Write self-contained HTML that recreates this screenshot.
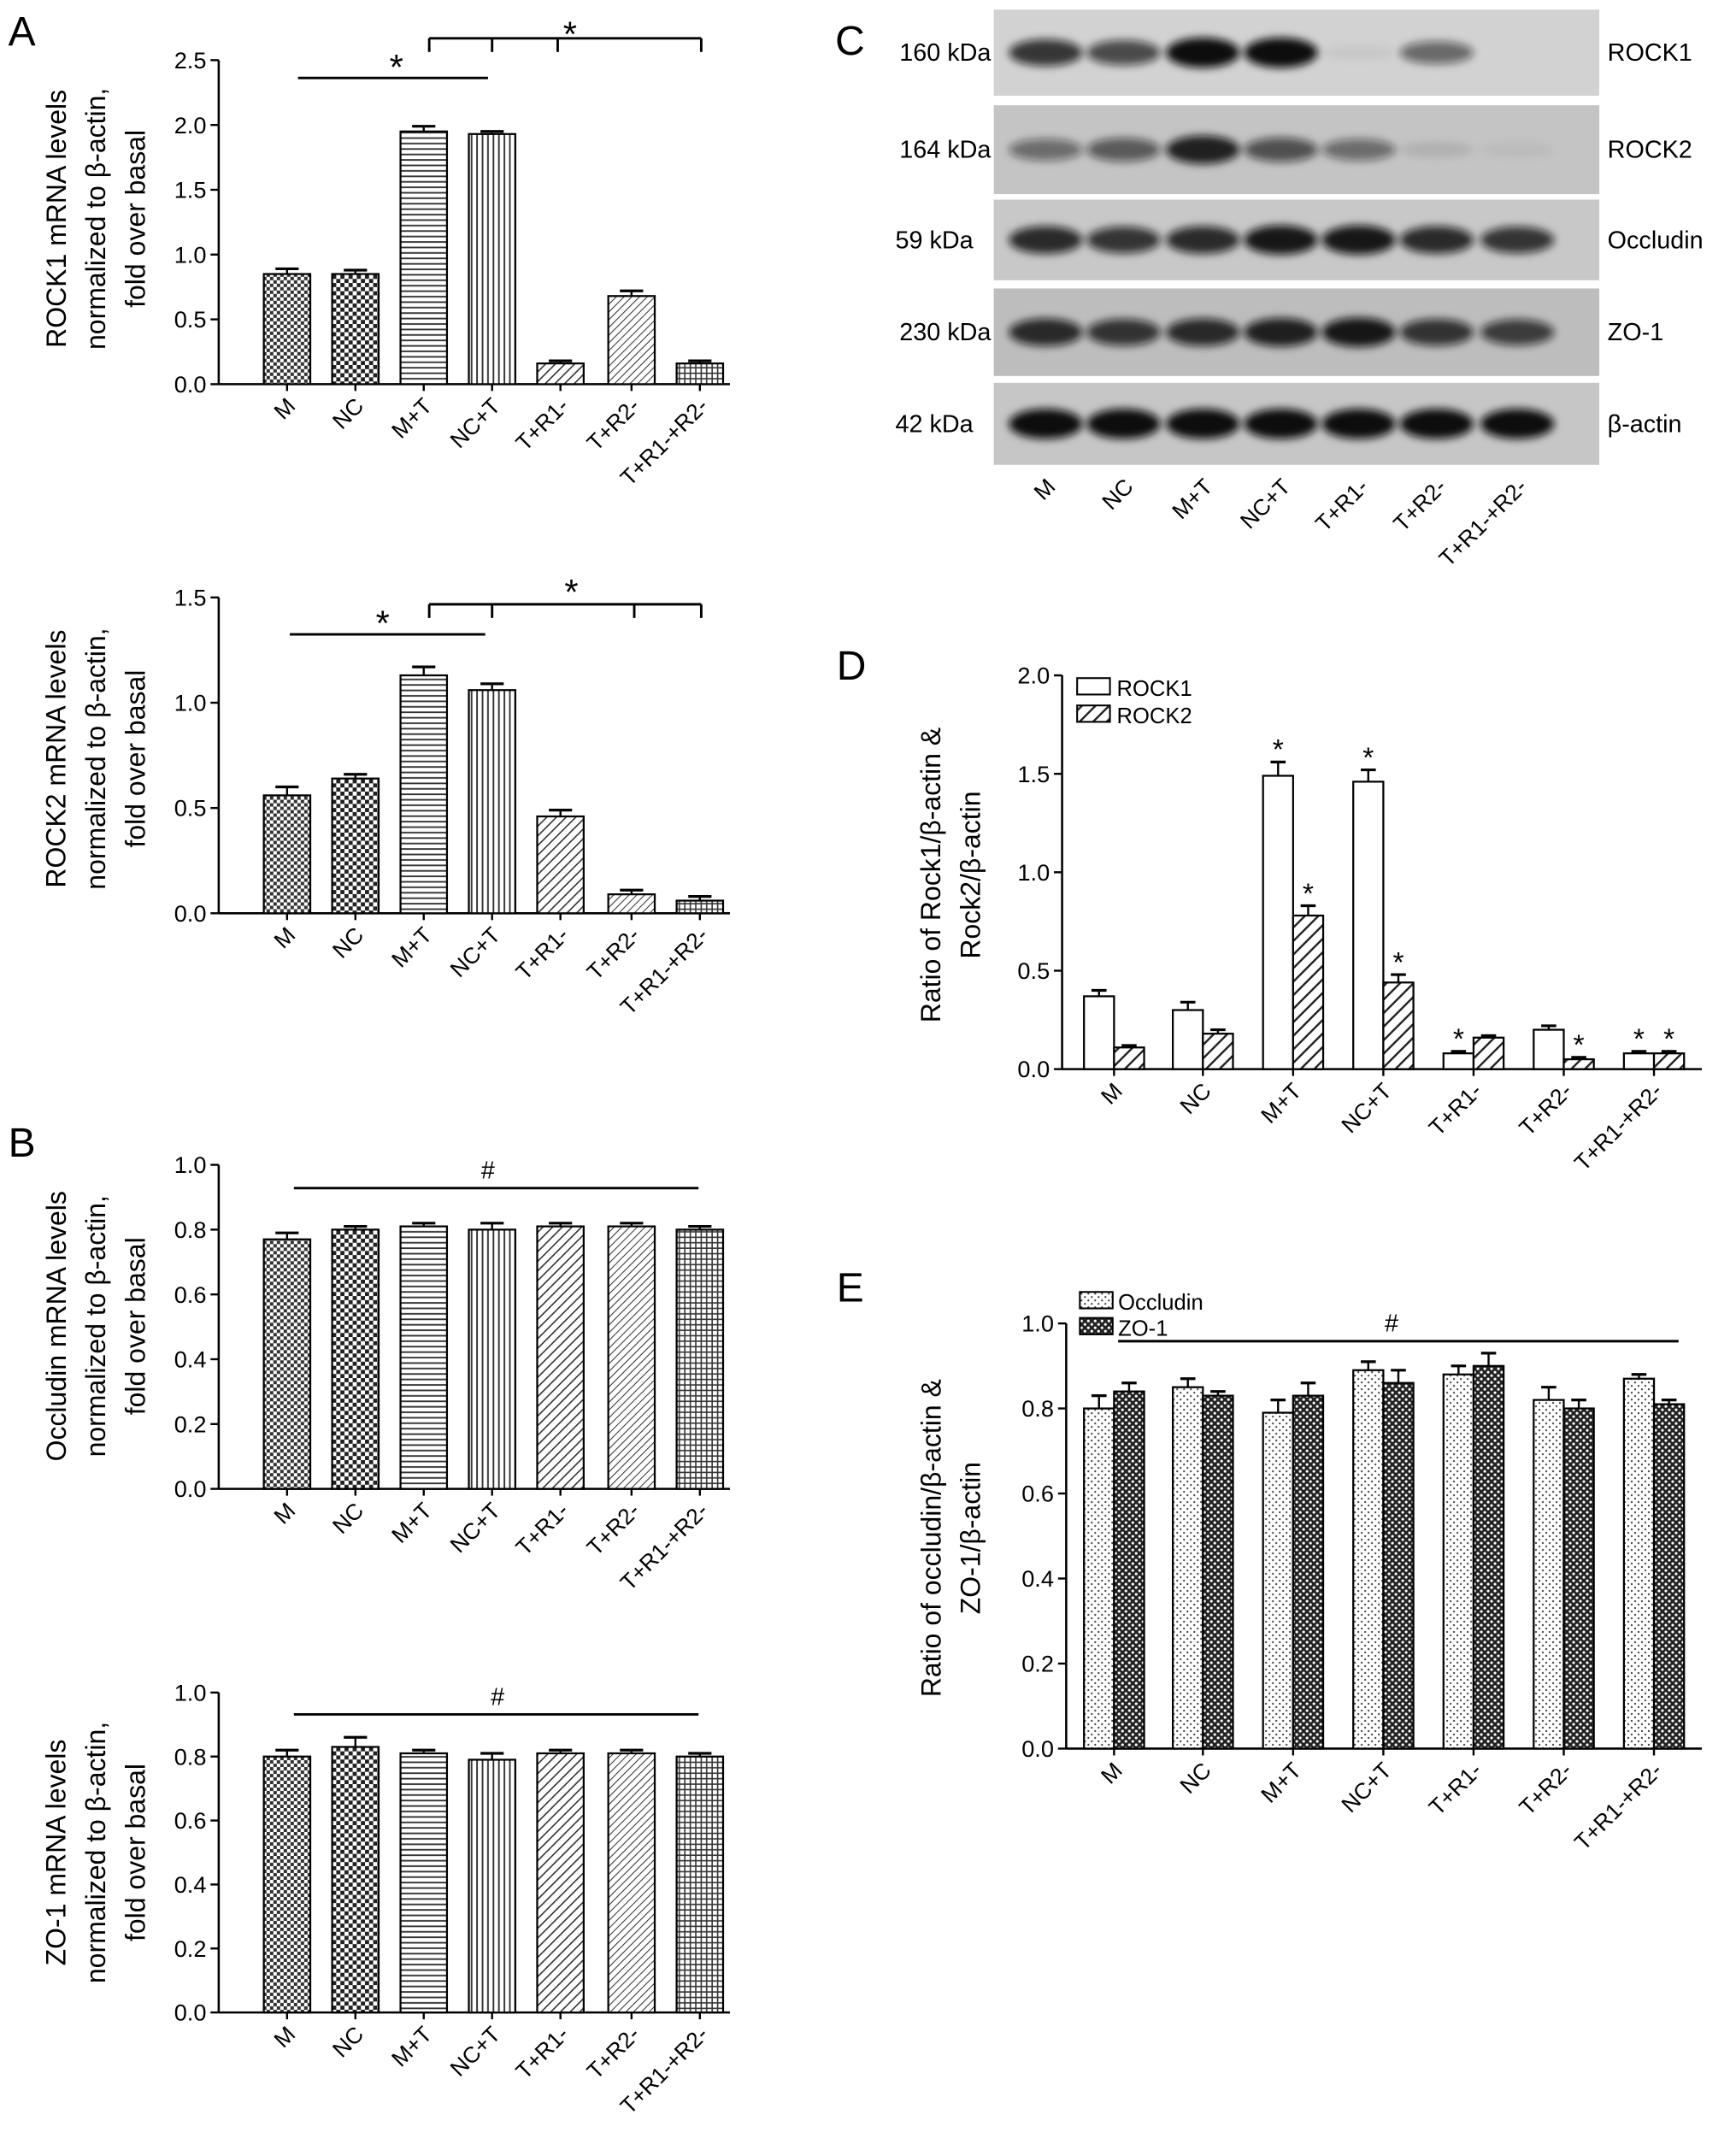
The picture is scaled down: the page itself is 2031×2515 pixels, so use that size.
<!DOCTYPE html>
<html><head><meta charset="utf-8"><style>
html,body{margin:0;padding:0;background:#fff}
svg{display:block;font-family:"Liberation Sans",sans-serif}
</style></head><body>
<svg id="fig" width="2031" height="2515" viewBox="0 0 1270 1572.6" preserveAspectRatio="none" xmlns="http://www.w3.org/2000/svg">
<defs>
<pattern id="p0" width="5" height="5" patternUnits="userSpaceOnUse"><rect width="5" height="5" fill="#fff"/><rect width="2.5" height="2.5" fill="#333"/><rect x="2.5" y="2.5" width="2.5" height="2.5" fill="#333"/></pattern>
<pattern id="p1" width="6" height="6" patternUnits="userSpaceOnUse"><rect width="6" height="6" fill="#fff"/><rect width="3" height="3" fill="#222"/><rect x="3" y="3" width="3" height="3" fill="#222"/></pattern>
<pattern id="p2" width="4" height="4" patternUnits="userSpaceOnUse"><rect width="4" height="4" fill="#fff"/><line x1="0" y1="1" x2="4" y2="1" stroke="#333" stroke-width="1.2"/></pattern>
<pattern id="p3" width="4" height="4" patternUnits="userSpaceOnUse"><rect width="4" height="4" fill="#fff"/><line x1="1" y1="0" x2="1" y2="4" stroke="#333" stroke-width="1.2"/></pattern>
<pattern id="p4" width="5" height="5" patternUnits="userSpaceOnUse" patternTransform="rotate(45)"><rect width="5" height="5" fill="#fff"/><line x1="0" y1="0" x2="0" y2="5" stroke="#333" stroke-width="2"/></pattern>
<pattern id="p5" width="4" height="4" patternUnits="userSpaceOnUse" patternTransform="rotate(45)"><rect width="4" height="4" fill="#fff"/><line x1="0" y1="0" x2="0" y2="4" stroke="#333" stroke-width="1.3"/></pattern>
<pattern id="p6" width="4" height="4" patternUnits="userSpaceOnUse"><rect width="4" height="4" fill="#fff"/><line x1="0" y1="1" x2="4" y2="1" stroke="#333" stroke-width="1"/><line x1="1" y1="0" x2="1" y2="4" stroke="#333" stroke-width="1"/></pattern>
<pattern id="pR2" width="7" height="7" patternUnits="userSpaceOnUse" patternTransform="rotate(45)"><rect width="7" height="7" fill="#fff"/><line x1="0" y1="0" x2="0" y2="7" stroke="#222" stroke-width="3"/></pattern>
<pattern id="pOc" width="5" height="5" patternUnits="userSpaceOnUse"><rect width="5" height="5" fill="#fff"/><circle cx="1.2" cy="1.2" r="0.7" fill="#333"/><circle cx="3.7" cy="3.7" r="0.7" fill="#333"/></pattern>
<pattern id="pZo" width="5" height="5" patternUnits="userSpaceOnUse"><rect width="5" height="5" fill="#222"/><circle cx="1.2" cy="1.2" r="1" fill="#fff"/><circle cx="3.7" cy="3.7" r="1" fill="#fff"/></pattern>
<filter id="blur" x="-50%" y="-50%" width="200%" height="200%"><feGaussianBlur stdDeviation="3"/></filter>
</defs>
<g id="root"></g>
</svg>
<script>
const cats=["M","NC","M+T","NC+T","T+R1-","T+R2-","T+R1-+R2-"];
const rock1mRNA=[0.85,0.85,1.95,1.93,0.16,0.68,0.16];
const rock1Err=[0.04,0.03,0.04,0.02,0.02,0.04,0.02];
const rock2mRNA=[0.56,0.64,1.13,1.06,0.46,0.09,0.06];
const rock2Err=[0.04,0.02,0.04,0.03,0.03,0.02,0.02];
const occMRNA=[0.77,0.80,0.81,0.80,0.81,0.81,0.80];
const occErr=[0.02,0.01,0.01,0.02,0.01,0.01,0.01];
const zoMRNA=[0.80,0.83,0.81,0.79,0.81,0.81,0.80];
const zoErr=[0.02,0.03,0.01,0.02,0.01,0.01,0.01];
const dRock1=[0.37,0.30,1.49,1.46,0.08,0.20,0.08];
const dRock1Err=[0.03,0.04,0.07,0.06,0.01,0.02,0.01];
const dRock2=[0.11,0.18,0.78,0.44,0.16,0.05,0.08];
const dRock2Err=[0.01,0.02,0.05,0.04,0.01,0.01,0.01];
const eOcc=[0.80,0.85,0.79,0.89,0.88,0.82,0.87];
const eOccErr=[0.03,0.02,0.03,0.02,0.02,0.03,0.01];
const eZo=[0.84,0.83,0.83,0.86,0.90,0.80,0.81];
const eZoErr=[0.02,0.01,0.03,0.03,0.03,0.02,0.01];
const ticks25=["0.0","0.5","1.0","1.5","2.0","2.5"];
const ticks15=["0.0","0.5","1.0","1.5"];
const ticks10=["0.0","0.2","0.4","0.6","0.8","1.0"];
const ticks20=["0.0","0.5","1.0","1.5","2.0"];
const blotR1=[0.8,0.7,1.0,1.0,0.05,0.55,0.0];
const blotR2=[0.5,0.6,0.9,0.65,0.5,0.1,0.05];
const blotOcc=[0.85,0.8,0.85,0.95,0.95,0.85,0.8];
const blotZo=[0.85,0.8,0.85,0.9,0.95,0.8,0.75];
const blotAct=[1,1,1,1,1,1,1];

const NS="http://www.w3.org/2000/svg";
const root=document.getElementById('root');
function mk(tag,attrs,parent,txt){const e=document.createElementNS(NS,tag);for(const k in attrs)e.setAttribute(k,attrs[k]);if(txt!==undefined)e.textContent=txt;(parent||root).appendChild(e);return e;}

function axes(g,ax){
  const y=v=>ax.y0-(v/ax.max)*(ax.y0-ax.y1);
  mk('line',{x1:ax.x,y1:ax.y0,x2:ax.x,y2:ax.y1,stroke:'#000','stroke-width':1.6},g);
  mk('line',{x1:ax.x,y1:ax.y0,x2:ax.xe,y2:ax.y0,stroke:'#000','stroke-width':1.6},g);
  ax.ticks.forEach(t=>{const v=parseFloat(t);const yy=y(v);
    mk('line',{x1:ax.x-6,y1:yy,x2:ax.x,y2:yy,stroke:'#000','stroke-width':1.5},g);
    const tl=mk('text',{x:ax.x-9,y:yy+6,'text-anchor':'end','font-size':17},g,t);
    
    
  });
  ax.xs.forEach((cx,i)=>{
    mk('line',{x1:cx,y1:ax.y0,x2:cx,y2:ax.y0+5,stroke:'#000','stroke-width':1.5},g);
    const t=mk('text',{x:cx+7,y:ax.y0+17,'text-anchor':'end','font-size':16.5,transform:`rotate(-45 ${cx+7} ${ax.y0+17})`},g,cats[i]);
    
    
  });
  ax.title.forEach((ln,i)=>{
    const tx=ax.tx+i*ax.tdx, ty=ax.ty;
    const t=mk('text',{x:tx,y:ty,'text-anchor':'middle','font-size':20,transform:`rotate(-90 ${tx} ${ty})`},g,ln);
    
    
  });
  return y;
}
function bar(g,cx,w,v,e,y,fill,name){
  const b=mk('rect',{x:cx-w/2,y:y(v),width:w,height:y(0)-y(v),fill:fill,stroke:'#000','stroke-width':1.4},g);
  
  
  mk('line',{x1:cx,y1:y(v),x2:cx,y2:y(v+e),stroke:'#000','stroke-width':1.5},g);
  mk('line',{x1:cx-w/4,y1:y(v+e),x2:cx+w/4,y2:y(v+e),stroke:'#000','stroke-width':2},g);
}
const pats=['url(#p0)','url(#p1)','url(#p2)','url(#p3)','url(#p4)','url(#p5)','url(#p6)'];
const xsA=[210,260,310,360,410,462,512];
function simplePanel(name,vals,errs,ax){
  const g=mk('g',{});
  ax.xs=xsA;ax.x=160;ax.xe=534;ax.tx=48;ax.tdx=29;
  const y=axes(g,ax);
  vals.forEach((v,i)=>bar(g,xsA[i],34,v,errs[i],y,pats[i],'bar-'+cats[i].toLowerCase().replace(/[^a-z0-9]+/g,'-')));
  return g;
}
function sig(g,x1,x2,yy,ticksx,tickDown,sx,sy,sym){
  mk('line',{x1:x1,y1:yy,x2:x2,y2:yy,stroke:'#000','stroke-width':1.8},g);
  ticksx.forEach(t=>mk('line',{x1:t,y1:yy,x2:t,y2:yy+tickDown,stroke:'#000','stroke-width':1.8},g));
  const s=mk('text',{x:sx,y:sy,'text-anchor':'middle','font-size':sym=='*'?26:18},g,sym);
  
}
function label(t,x,y){const e=mk('text',{x:x,y:y,'font-size':30},root,t);}

label('A',6,33);label('B',6,846);label('C',611,40);label('D',612,497);label('E',612,952);

let g=simplePanel('rock1-mrna-chart',rock1mRNA,rock1Err,{y0:281,y1:44,max:2.5,ticks:ticks25,ty:160,title:['ROCK1 mRNA levels','normalized to β-actin,','fold over basal']});
sig(g,218,357,57,[],0,290,58,'*');
sig(g,314,513,28,[314,360,408,513],10,417,34,'*');
g=simplePanel('rock2-mrna-chart',rock2mRNA,rock2Err,{y0:668,y1:437,max:1.5,ticks:ticks15,ty:555,title:['ROCK2 mRNA levels','normalized to β-actin,','fold over basal']});
sig(g,212,355,464,[],0,280,465,'*');
sig(g,314,513,442,[314,360,464,513],10,418,442,'*');
g=simplePanel('occludin-mrna-chart',occMRNA,occErr,{y0:1089,y1:852,max:1.0,ticks:ticks10,ty:970,title:['Occludin mRNA levels','normalized to β-actin,','fold over basal']});
sig(g,215,511,869,[],0,357,862,'#');
g=simplePanel('zo1-mrna-chart',zoMRNA,zoErr,{y0:1472,y1:1238,max:1.0,ticks:ticks10,ty:1355,title:['ZO-1 mRNA levels','normalized to β-actin,','fold over basal']});
sig(g,215,511,1254,[],0,364,1247,'#');

const xsD=[815,880,946,1012,1078,1144,1210];
g=mk('g',{});
let yD=axes(g,{x:777,xe:1245,y0:782,y1:494,max:2.0,ticks:ticks20,xs:xsD,tx:688,tdx:29,ty:640,title:['Ratio of Rock1/β-actin &','Rock2/β-actin']});
xsD.forEach((cx,i)=>{
  bar(g,cx-11,22,dRock1[i],dRock1Err[i],yD,'#fff','bar-rock1-'+i);
  bar(g,cx+11,22,dRock2[i],dRock2Err[i],yD,'url(#pR2)','bar-rock2-'+i);
});
const starsD=[[2,0],[2,1],[3,0],[3,1],[4,0],[5,1],[6,0],[6,1]];
starsD.forEach(([i,s])=>{const v=s?dRock2[i]+dRock2Err[i]:dRock1[i]+dRock1Err[i];const cx=xsD[i]+(s?11:-11);
  const t=mk('text',{x:cx,y:yD(v)-2,'text-anchor':'middle','font-size':21},g,'*');});
let lg=mk('g',{});
mk('rect',{x:788,y:496,width:24,height:12,fill:'#fff',stroke:'#000','stroke-width':1.3},lg);mk('text',{x:817,y:509,'font-size':16},lg,'ROCK1');
mk('rect',{x:788,y:516,width:24,height:12,fill:'url(#pR2)',stroke:'#000','stroke-width':1.3},lg);mk('text',{x:817,y:529,'font-size':16},lg,'ROCK2');

g=mk('g',{});
let yE=axes(g,{x:780,xe:1245,y0:1279,y1:968,max:1.0,ticks:ticks10,xs:xsD,tx:688,tdx:29,ty:1125,title:['Ratio of occludin/β-actin &','ZO-1/β-actin']});
xsD.forEach((cx,i)=>{
  bar(g,cx-11,22,eOcc[i],eOccErr[i],yE,'url(#pOc)','bar-occludin-'+i);
  bar(g,cx+11,22,eZo[i],eZoErr[i],yE,'url(#pZo)','bar-zo1-'+i);
});
sig(g,818,1228,981,[],0,1018,974,'#');
lg=mk('g',{});
mk('rect',{x:790,y:945,width:24,height:12,fill:'url(#pOc)',stroke:'#000','stroke-width':1.3},lg);mk('text',{x:818,y:958,'font-size':16},lg,'Occludin');
mk('rect',{x:790,y:964,width:24,height:12,fill:'url(#pZo)',stroke:'#000','stroke-width':1.3},lg);mk('text',{x:818,y:977,'font-size':16},lg,'ZO-1');

const lanes=[765,822,880,937,994,1051,1110];
const strips=[
 {y:7,h:63,kda:'160 kDa',name:'ROCK1',v:blotR1,bg:'#d2d2d2'},
 {y:77,h:65,kda:'164 kDa',name:'ROCK2',v:blotR2,bg:'#c4c4c4'},
 {y:146,h:59,kda:'59 kDa',name:'Occludin',v:blotOcc,bg:'#c8c8c8'},
 {y:211,h:64,kda:'230 kDa',name:'ZO-1',v:blotZo,bg:'#bdbdbd'},
 {y:280,h:60,kda:'42 kDa',name:'β-actin',v:blotAct,bg:'#c6c6c6'}];
g=mk('g',{});
strips.forEach(s=>{
  const sg=mk('g',{},g);
  mk('rect',{x:727,y:s.y,width:443,height:s.h,fill:s.bg},sg);
  const cy=s.y+s.h/2;
  s.v.forEach((v,i)=>{ if(v>0) mk('ellipse',{cx:lanes[i],cy:cy,rx:27,ry:5+6*v,fill:'#111','fill-opacity':v,filter:'url(#blur)'},sg);});
  mk('text',{x:s.kda.length>6?725:712,y:cy+6,'text-anchor':'end','font-size':18},sg,s.kda);
  mk('text',{x:1176,y:cy+6,'font-size':18},sg,s.name);
});
lanes.forEach((cx,i)=>{const t=mk('text',{x:cx+8,y:357,'text-anchor':'end','font-size':16.5,transform:`rotate(-45 ${cx+8} 357)`},g,cats[i]);});
</script>
</body></html>
